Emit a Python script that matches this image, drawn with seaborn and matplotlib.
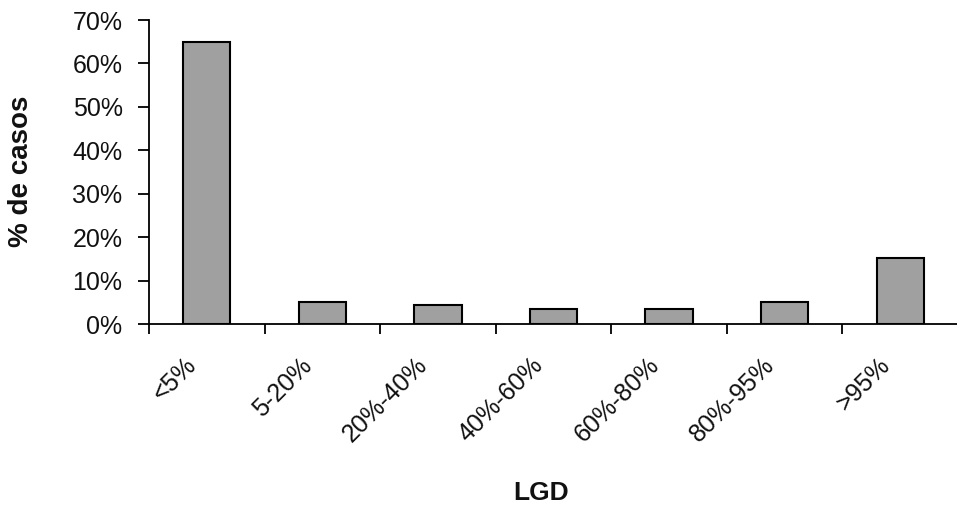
import matplotlib
matplotlib.use("Agg")
import matplotlib.pyplot as plt
import seaborn as sns
import pandas as pd
from matplotlib.ticker import PercentFormatter, MultipleLocator, FixedLocator
from matplotlib.transforms import ScaledTranslation

categories = ["<5%", "5-20%", "20%-40%", "40%-60%", "60%-80%", "80%-95%", ">95%"]
values = [65, 5, 4.3, 3.4, 3.4, 5, 15.3]

sns.set_theme(style="white")
plt.rcParams['font.family'] = ['Liberation Sans', 'DejaVu Sans']
plt.rcParams['text.color'] = '#111111'
plt.rcParams['axes.labelcolor'] = '#111111'
plt.rcParams['xtick.color'] = '#111111'
plt.rcParams['ytick.color'] = '#111111'

df = pd.DataFrame({"LGD": categories, "casos": values})

fig = plt.figure(figsize=(9.57, 5.07), dpi=100)
ax = fig.add_axes([149/957, 1-324/507, (958-149)/957, (324-20)/507])

sns.barplot(data=df, x="LGD", y="casos", color="#a0a0a0", edgecolor="black",
            linewidth=1.5, width=0.41, saturation=1, ax=ax)

ax.set_ylim(0, 70)
ax.set_xlim(-0.5, len(categories) - 0.5)
ax.yaxis.set_major_locator(MultipleLocator(10))
ax.yaxis.set_major_formatter(PercentFormatter(decimals=0))

for s in ["top", "right"]:
    ax.spines[s].set_visible(False)
for s in ["left", "bottom"]:
    ax.spines[s].set_color("black")
    ax.spines[s].set_linewidth(1.3)

ax.set_xticks(range(len(categories)))
ax.tick_params(axis="x", which="major", length=0, pad=27, bottom=True)
ax.xaxis.set_minor_locator(FixedLocator([i - 0.5 for i in range(len(categories) + 1)]))
ax.tick_params(axis="x", which="minor", length=7, width=1.3, color="black",
               direction="out", bottom=True)
ax.tick_params(axis="y", length=8, width=1.3, color="black", direction="out",
               labelsize=18, pad=11, left=True)
ax.set_xticklabels(categories, rotation=45, ha="right", va="center",
                   rotation_mode="anchor", fontsize=18)
offset = ScaledTranslation(-14/100, 0, fig.dpi_scale_trans)
for lab in ax.get_xticklabels():
    lab.set_transform(lab.get_transform() + offset)

ax.set_xlabel("LGD", fontsize=19, fontweight="bold")
ax.set_ylabel("% de casos", fontsize=20, fontweight="bold")
ax.xaxis.set_label_coords(541/957, 1-493/507, transform=fig.transFigure)
ax.yaxis.set_label_coords(21/957, 1-171/507, transform=fig.transFigure)
ax.xaxis.label.set_va("center")
ax.yaxis.label.set_va("center")

fig.savefig("out.png", dpi=100)
